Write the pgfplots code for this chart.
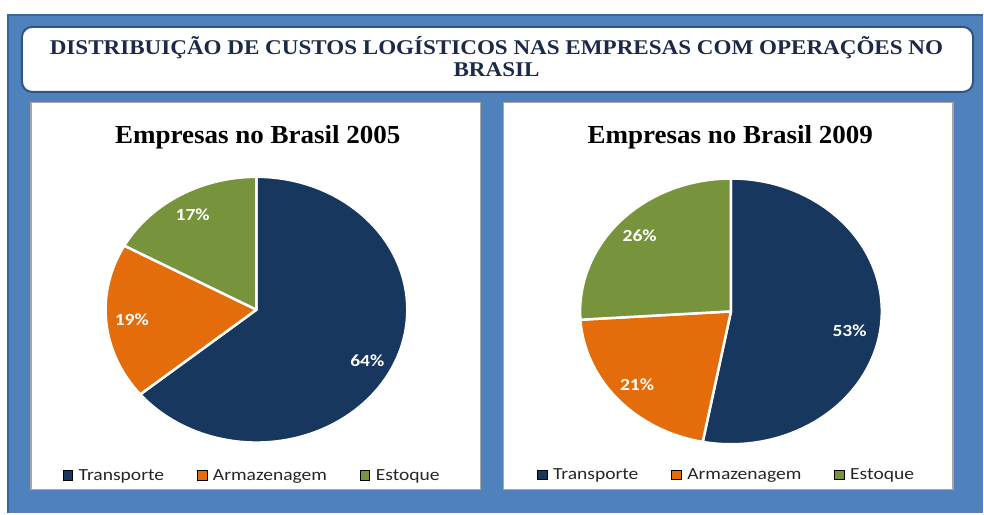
\documentclass[border=0pt]{standalone}
\usepackage{pgfplots}
\pgfplotsset{compat=1.18}
\usepackage{fontspec}
\setmainfont{Liberation Serif}
\newfontfamily\calib[FakeStretch=1.15]{Carlito}
\newfontfamily\titlefont[FakeStretch=1.1]{Liberation Serif}
\newfontfamily\panelfont[FakeStretch=1.04]{Liberation Serif}

\definecolor{transp}{HTML}{17375E}
\definecolor{armaz}{HTML}{E46C0A}
\definecolor{estoq}{HTML}{77933C}
\definecolor{bgblue}{HTML}{4F81BD}
\definecolor{bgdark}{HTML}{3A669E}
\definecolor{boxdark}{HTML}{2F5483}
\definecolor{titlenavy}{HTML}{1B2A47}

\pgfplotsset{
  piestyle/.style={
    x=151pt, y=133pt,
    xmin=-1.2, xmax=1.2, ymin=-1.3, ymax=1.3,
    hide axis, clip=false, anchor=center,
    legend columns=-1,
    legend image code/.code={\fill[#1] (0pt,-4.3pt) rectangle (9.5pt,5.2pt); \path (13.5pt,0pt);},
    legend style={anchor=center, draw=none, fill=none,
      font=\calib\fontsize{17}{20}\selectfont, text=black!85,
      /tikz/every even column/.append style={column sep=31pt}},
  },
  % fatia: valor/cor/desvio do angulo do rotulo/raio do rotulo
  pie slices/.code={%
    \xdef\acur{90}%
    \foreach \v/\c/\da/\lr in {#1}{%
      \pgfmathsetmacro\aend{\acur-3.6*\v}%
      \pgfmathsetmacro\amid{(\acur+\aend)/2+\da}%
      \filldraw[fill=\c, draw=white, line width=2.5pt, line join=round]
        (axis cs:0,0) -- (axis cs:{cos(\acur)},{sin(\acur)})
        arc[start angle=\acur, end angle=\aend, x radius=151pt, y radius=133pt] -- cycle;
      \node[font=\calib\bfseries\fontsize{17}{20}\selectfont, text=white]
        at (axis cs:{\lr*cos(\amid)},{\lr*sin(\amid)}) {\v\%};
      \xdef\acur{\aend}%
    }%
  },
}

\begin{document}
\begin{tikzpicture}[x=1pt,y=1pt]
% fundo
\fill[white] (0,0) rectangle (984,514);
\fill[bgblue] (7,0) rectangle (984,500);
\draw[bgdark, line width=2pt] (8,0) -- (8,499) -- (984,499);
% caixa do titulo
\draw[rounded corners=10pt, fill=white, draw=boxdark, line width=2pt] (22,422) rectangle (974,487);
\node[font=\titlefont\bfseries\fontsize{21}{23}\selectfont, text=titlenavy, anchor=base] at (497,459)
  {DISTRIBUIÇÃO DE CUSTOS LOGÍSTICOS NAS EMPRESAS COM OPERAÇÕES NO};
\node[font=\titlefont\bfseries\fontsize{21}{23}\selectfont, text=titlenavy, anchor=base] at (497,437.5)
  {BRASIL};
% paineis
\draw[fill=white, draw=gray!70, line width=1.2pt] (31,24) rectangle (481,411);
\draw[fill=white, draw=gray!70, line width=1.2pt] (504,24) rectangle (954,411);
\node[font=\panelfont\bfseries\fontsize{26}{30}\selectfont, anchor=base] at (258,370.7) {Empresas no Brasil 2005};
\node[font=\panelfont\bfseries\fontsize{26}{30}\selectfont, anchor=base] at (731,370.7) {Empresas no Brasil 2009};

% 2005
\begin{axis}[piestyle, at={(256.7pt,204pt)}, legend style={at={(0.4885,0.0199)}}]
\addlegendimage{fill=transp}\addlegendentry{Transporte}
\addlegendimage{fill=armaz}\addlegendentry{Armazenagem}
\addlegendimage{fill=estoq}\addlegendentry{Estoque}
\pgfplotsextra{\pgfplotsset{pie slices={64/transp/-2.5/0.83, 19/armaz/0/0.83, 17/estoq/0/0.83}}}
\end{axis}

% 2009
\begin{axis}[piestyle, at={(731.7pt,202.3pt)}, legend style={at={(0.488,0.0257)}}]
\addlegendimage{fill=transp}\addlegendentry{Transporte}
\addlegendimage{fill=armaz}\addlegendentry{Armazenagem}
\addlegendimage{fill=estoq}\addlegendentry{Estoque}
\pgfplotsextra{\pgfplotsset{pie slices={53/transp/-5.2/0.8, 21/armaz/0/0.83, 26/estoq/0/0.83}}}
\end{axis}
\end{tikzpicture}
\end{document}
